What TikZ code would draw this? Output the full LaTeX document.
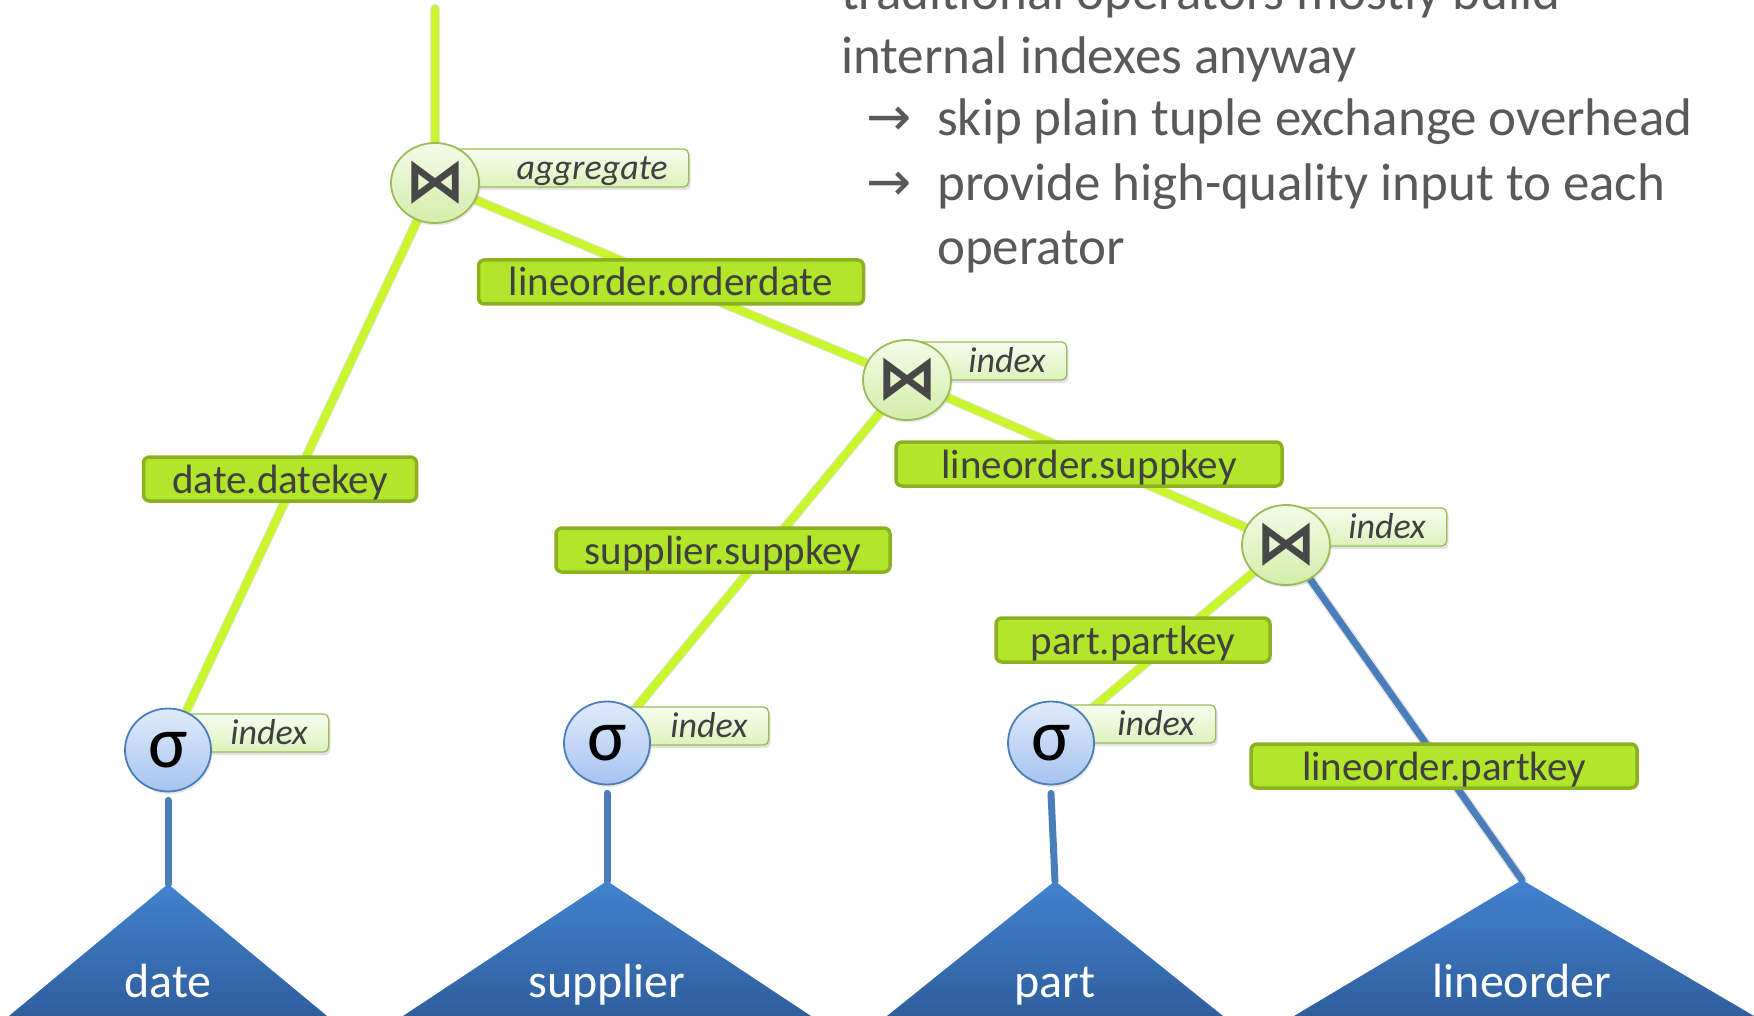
\documentclass[tikz,border=0pt]{standalone}
\usepackage{fontspec}
\setmainfont{Carlito}
\newfontfamily\symfont{DejaVu Sans}
\newfontfamily\symboldfont{DejaVu Sans Bold}
\usetikzlibrary{shapes.geometric,shadows}

\definecolor{edgegreen}{HTML}{C8F52C}
\definecolor{edgeblue}{HTML}{4A7EBB}
\definecolor{labfill}{HTML}{B2E62A}
\definecolor{labdraw}{HTML}{8CB021}
\definecolor{txtgray}{HTML}{595959}
\definecolor{labtxt}{HTML}{404040}
\definecolor{joindraw}{HTML}{9BBB59}
\definecolor{jointop}{HTML}{F4FBE8}
\definecolor{joinbot}{HTML}{D3EEAA}
\definecolor{seldraw}{HTML}{4A7EBB}
\definecolor{seltop}{HTML}{E0EBFB}
\definecolor{selbot}{HTML}{A6C4F0}
\definecolor{tagtop}{HTML}{F8FDF0}
\definecolor{tagbot}{HTML}{DCF2BA}
\definecolor{tritop}{HTML}{4282D0}
\definecolor{tribot}{HTML}{2F5E9C}

\pgfdeclarelayer{bg}
\pgfdeclarelayer{edges}
\pgfdeclarelayer{tags}
\pgfsetlayers{bg,edges,tags,main}

\tikzset{
  x=1pt, y=-1pt,
  greenedge/.style={draw=edgegreen, line width=8pt, line cap=round},
  blueedge/.style={draw=edgeblue, line width=7pt, line cap=round},
  edgeshadow/.style={draw=black, draw opacity=0.10, line width=10pt, line cap=round,
    shift={(2.5pt,-2.5pt)}},
  joinop/.style={ellipse, draw=joindraw, line width=1.8pt, top color=jointop,
    bottom color=joinbot, minimum width=88pt, minimum height=80pt, inner sep=0pt,
    font=\symboldfont\fontsize{60}{60}\selectfont, text=black!72,
    drop shadow={opacity=0.18, shadow xshift=1.5pt, shadow yshift=-2.5pt}},
  selop/.style={ellipse, draw=seldraw, line width=1.8pt, top color=seltop,
    bottom color=selbot, minimum width=86pt, minimum height=83pt, inner sep=0pt,
    font=\fontsize{74}{74}\selectfont, text=black,
    drop shadow={opacity=0.18, shadow xshift=1.5pt, shadow yshift=-2.5pt}},
  idxtag/.style={draw=joindraw, line width=1.3pt, rounded corners=5pt,
    top color=tagtop, bottom color=tagbot, anchor=west,
    font=\itshape\fontsize{36}{36}\selectfont, text=labtxt, align=right,
    inner xsep=21pt, inner ysep=0pt, text height=30.5pt, text depth=7.5pt,
    drop shadow={opacity=0.22, shadow xshift=2pt, shadow yshift=-3pt}},
  keylabel/.style={draw=labdraw, fill=labfill, line width=3.5pt, rounded corners=6pt,
    font=\fontsize{41}{41}\selectfont, text=labtxt, inner xsep=0pt, inner ysep=0pt,
    text height=36pt, text depth=8pt},
  tablename/.style={anchor=base, text=white, font=\fontsize{48}{48}\selectfont, inner sep=0pt},
  tablebody/.style={top color=tritop, bottom color=tribot},
  notes/.style={anchor=base west, inner sep=0pt, text=txtgray,
    font=\fontsize{53}{64}\selectfont},
  arrowmark/.style={anchor=base west, inner sep=0pt, text=txtgray,
    font=\symfont\fontsize{54}{54}\selectfont},
}

\begin{document}
\begin{tikzpicture}
\useasboundingbox (0,0) rectangle (1754,1016);
\begin{pgfonlayer}{bg}
  \fill[white] (0,0) rectangle (1754,1016);
\end{pgfonlayer}

% operators
\node[joinop] (agg) at (435,183) {⋈};
\node[joinop] (j2)  at (907,380) {⋈};
\node[joinop] (j3)  at (1286,545) {⋈};
\node[selop]  (sd)  at (168,750) {σ};
\node[selop]  (ss)  at (607,743) {σ};
\node[selop]  (sp)  at (1051,743) {σ};

% free ends of the plan edges
\coordinate (root)  at (435,9);
\coordinate (adate) at (168,884);
\coordinate (asupp) at (607,881);
\coordinate (apart) at (1055,881);
\coordinate (aline) at (1522,880);

% operator annotations
\begin{pgfonlayer}{tags}
  \node[idxtag, text width=211pt] (tagagg) at (435,168) {aggregate};
  \node[idxtag, text width=117pt] (tagj2)  at (907,361) {index};
  \node[idxtag, text width=118pt] (tagj3)  at (1286,527) {index};
  \node[idxtag, text width=118pt] (tagsd)  at (168,733) {index};
  \node[idxtag, text width=119pt] (tagss)  at (607,726) {index};
  \node[idxtag, text width=122pt] (tagsp)  at (1051,724) {index};

  % base tables
  \shade[tablebody] (adate) -- (9,1016) -- (327,1016) -- cycle;
  \shade[tablebody] (asupp) -- (403,1016) -- (811,1016) -- cycle;
  \shade[tablebody] (apart) -- (887,1016) -- (1223,1016) -- cycle;
  \shade[tablebody] (aline) -- (1294,1016) -- (1754,1016) -- cycle;
\end{pgfonlayer}

\node[tablename] (tdate) at (168,997) {date};
\node[tablename] (tsupp) at (607,997) {supplier};
\node[tablename] (tpart) at (1055,997) {part};
\node[tablename] (tline) at (1522,997) {lineorder};

% plan edges
\begin{pgfonlayer}{edges}
  \foreach \a/\b in {root/agg, agg/sd, agg/j2, j2/ss, j2/j3, j3/sp, j3/aline}
    \draw[edgeshadow] (\a.center) -- (\b.center);
  \draw[greenedge] (root) -- (agg.center);
  \draw[greenedge] (agg.center) -- (sd.center);
  \draw[greenedge] (agg.center) -- (j2.center);
  \draw[greenedge] (j2.center) -- (ss.center);
  \draw[greenedge] (j2.center) -- (j3.center);
  \draw[greenedge] (j3.center) -- (sp.center);
  \draw[blueedge]  (j3.center) -- (aline);
  \draw[blueedge]  ([yshift=-8pt]sd.south) -- (adate);
  \draw[blueedge]  ([yshift=-8pt]ss.south) -- (asupp);
  \draw[blueedge]  ([yshift=-8pt]sp.south) -- (apart);
\end{pgfonlayer}

% join keys
\node[keylabel, minimum width=385pt] (korder) at (671,282) {lineorder.orderdate};
\node[keylabel, minimum width=273pt] (kdate)  at (280,479) {date.datekey};
\node[keylabel, minimum width=334pt] (kssupp) at (723,550) {supplier.suppkey};
\node[keylabel, minimum width=386pt] (klsupp) at (1089,464) {lineorder.suppkey};
\node[keylabel, minimum width=274pt] (kppart) at (1133,640) {part.partkey};
\node[keylabel, minimum width=386pt] (klpart) at (1444,766) {lineorder.partkey};

% notes
\node[notes] (n1) at (841,10)  {traditional operators mostly build};
\node[notes] (n2) at (841,74)  {internal indexes anyway};
\node[arrowmark] (ar1) at (866,136) {→};
\node[notes] (n3) at (937,136) {skip plain tuple exchange overhead};
\node[arrowmark] (ar2) at (866,201) {→};
\node[notes] (n4) at (937,201) {provide high-quality input to each};
\node[notes] (n5) at (937,265) {operator};
\end{tikzpicture}
\end{document}
